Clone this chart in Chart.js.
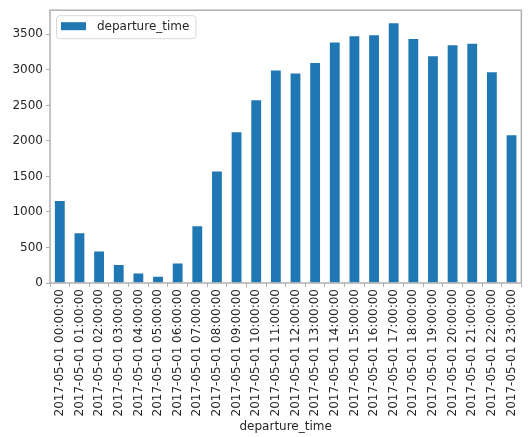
<!DOCTYPE html>
<html lang="en">
<head>
  <meta charset="UTF-8">
  <title>departure_time</title>
  <script src="https://cdn.jsdelivr.net/npm/chart.js"></script>
  <style>
    html, body {
      margin: 0;
      padding: 0;
      background: #fff;
    }
    #wrap {
      width: 528px;
      height: 437px;
    }
  </style>
</head>
<body>
  <div id="wrap"><canvas id="barChart" width="528" height="437"></canvas></div>

  <script>
    const hours = ['00', '01', '02', '03', '04', '05', '06', '07', '08', '09', '10', '11',
                   '12', '13', '14', '15', '16', '17', '18', '19', '20', '21', '22', '23'];
    const labels = hours.map(h => '2017-05-01 ' + h + ':00:00');
    const counts = [1155, 700, 442, 254, 134, 88, 276, 800, 1569, 2121, 2572, 2990,
                    2949, 3097, 3386, 3473, 3487, 3657, 3436, 3193, 3345, 3367, 2967, 2080];
    const yTicks = [0, 500, 1000, 1500, 2000, 2500, 3000, 3500];
    const yMax = 3840;

    const barColor = '#1f77b4';
    const spineColor = '#b0b0b0';
    const textColor = '#262626';
    const fontFamily = '"DejaVu Sans", sans-serif';

    // frame round the plot area + legend box in the top-left corner (matplotlib look)
    const framePlugin = {
      id: 'frame',
      afterDraw(chart) {
        const ctx = chart.ctx;
        const a = chart.chartArea;
        ctx.save();
        ctx.strokeStyle = spineColor;
        ctx.lineWidth = 1.5;
        ctx.strokeRect(a.left, a.top, a.right - a.left, a.bottom - a.top);

        // legend
        const name = chart.data.datasets[0].label;
        const lx = a.left + 6, ly = a.top + 5;
        ctx.font = '12px ' + fontFamily;
        const w = ctx.measureText(name).width + 47;
        ctx.fillStyle = 'rgba(255,255,255,0.8)';
        ctx.strokeStyle = '#d8d8d8';
        ctx.lineWidth = 1;
        ctx.beginPath();
        ctx.roundRect(lx + 0.5, ly + 0.5, w, 23, 3);
        ctx.fill();
        ctx.stroke();
        ctx.fillStyle = chart.data.datasets[0].backgroundColor;
        ctx.fillRect(lx + 5, ly + 7, 25, 8);
        ctx.fillStyle = textColor;
        ctx.textBaseline = 'middle';
        ctx.fillText(name, lx + 41, ly + 11.5);
        ctx.restore();
      }
    };

    Chart.defaults.font.family = fontFamily;
    Chart.defaults.font.size = 12;
    Chart.defaults.color = textColor;

    new Chart(document.getElementById('barChart'), {
      type: 'bar',
      data: {
        labels: labels,
        datasets: [{
          label: 'departure_time',
          data: counts,
          backgroundColor: barColor,
          borderWidth: 0,
          barPercentage: 0.5,
          categoryPercentage: 1.0
        }]
      },
      options: {
        responsive: false,
        animation: false,
        layout: { padding: { top: 5, right: 4, left: 0, bottom: 0 } },
        plugins: {
          legend: { display: false },
          tooltip: { enabled: false }
        },
        scales: {
          x: {
            grid: { display: true, drawOnChartArea: false, tickLength: 4, color: spineColor },
            border: { display: false },
            ticks: { maxRotation: 90, minRotation: 90, autoSkip: false, padding: 2 },
            title: { display: true, text: 'departure_time', padding: { top: 0, bottom: 3 } },
            afterFit(scale) { scale.height = 154; }
          },
          y: {
            min: 0,
            max: yMax,
            grid: { display: true, drawOnChartArea: false, tickLength: 4, color: spineColor },
            border: { display: false },
            ticks: { includeBounds: false, padding: 3, callback: v => String(v) },
            afterBuildTicks(scale) { scale.ticks = yTicks.map(v => ({ value: v })); },
            afterFit(scale) { scale.width = 50; }
          }
        }
      },
      plugins: [framePlugin]
    });
  </script>
</body>
</html>
